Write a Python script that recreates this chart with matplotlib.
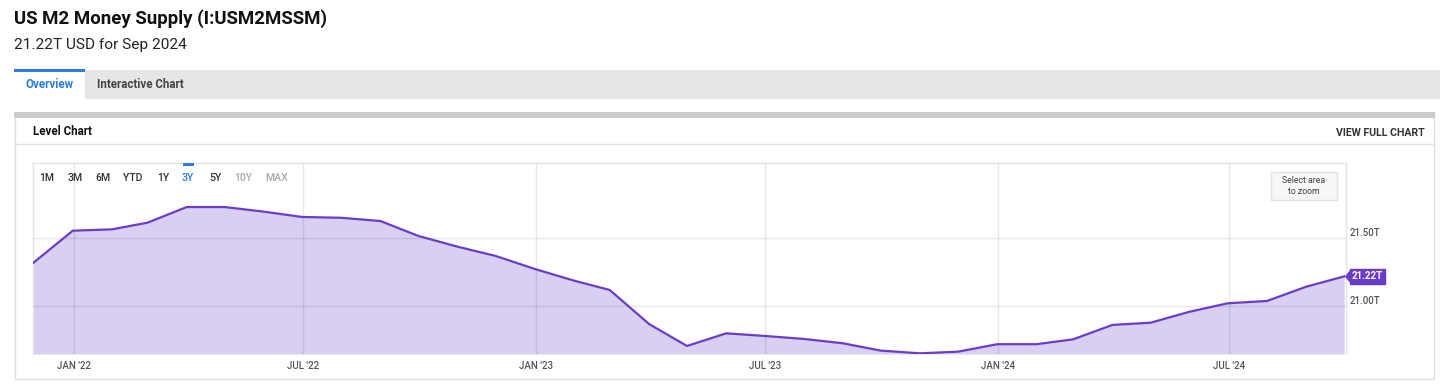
import matplotlib
matplotlib.use("Agg")
import matplotlib.pyplot as plt
import matplotlib.dates as mdates
from matplotlib.patches import Rectangle, FancyBboxPatch
from matplotlib.ticker import FuncFormatter
from matplotlib.transforms import offset_copy
import pandas as pd

plt.rcParams['font.family'] = ['Roboto', 'DejaVu Sans']

# M2 level, month-end, trillions USD (Nov 2021 .. Sep 2024)
dates = pd.date_range("2021-11-30", "2024-09-30", freq="ME")
values = [21.321, 21.556, 21.566, 21.615, 21.730, 21.730, 21.696, 21.657,
          21.651, 21.627, 21.517, 21.438, 21.370, 21.274, 21.188, 21.120,
          20.870, 20.708, 20.801, 20.782, 20.760, 20.728, 20.674, 20.654,
          20.666, 20.721, 20.721, 20.757, 20.863, 20.879, 20.960, 21.022,
          21.039, 21.144, 21.22]
yticks = [21.0, 21.5]
xticks = pd.to_datetime(["2022-01-01", "2022-07-01", "2023-01-01",
                         "2023-07-01", "2024-01-01", "2024-07-01"])
ranges = ["1M", "3M", "6M", "YTD", "1Y", "3Y", "5Y", "10Y", "MAX"]
range_x = [47, 75, 103, 133, 163, 188, 215, 243, 277]
ymin, ymax = 20.649, 22.054

W, H = 1440, 391
fig = plt.figure(figsize=(W / 100, H / 100), dpi=100)


def fx(x):
    return x / W


def fy(y):
    return 1 - y / H


def box(x0, y0, x1, y1, **kw):
    fig.add_artist(Rectangle((fx(x0), fy(y1)), fx(x1) - fx(x0), fy(y0) - fy(y1),
                             transform=fig.transFigure, **kw))


# header
fig.text(fx(14), fy(24), "US M2 Money Supply (I:USM2MSSM)", fontsize=13.4,
         fontweight='bold', color='#111111', va='baseline')
fig.text(fx(14), fy(48.5), "21.22T USD for Sep 2024", fontsize=11.1,
         color='#222222', va='baseline')

# tabs
box(14, 70, 1440, 99, color='#e6e6e6', lw=0)
box(14, 70, 85, 99, color='white', lw=0)
box(14, 69, 85, 72, color='#2a7de1', lw=0)
fig.text(fx(49.5), fy(87.5), "Overview", fontsize=8.3, fontweight='bold',
         color='#2a7de1', ha='center', va='baseline')
fig.text(fx(97), fy(87.5), "Interactive Chart", fontsize=8.3, fontweight='bold',
         color='#444444', va='baseline')

# card
box(14.5, 113, 1434, 379, fill=False, ec='#dddddd', lw=1)
box(14, 112, 1434.5, 117.5, color='#cccccc', lw=0)
fig.add_artist(plt.Line2D([fx(15), fx(1434)], [fy(144), fy(144)],
                          transform=fig.transFigure, color='#e2e2e2', lw=1))
fig.text(fx(33), fy(135), "Level Chart", fontsize=8.3, fontweight='bold',
         color='#111111', va='baseline')
fig.text(fx(1425), fy(136), "VIEW FULL CHART", fontsize=7.6, fontweight='bold',
         color='#333333', ha='right', va='baseline')

# plot
ax = fig.add_axes([fx(33), fy(354), fx(1346) - fx(33), fy(163) - fy(354)])
ax.fill_between(dates, values, ymin, color='#d9cff0', lw=0, zorder=1)
ax.plot(dates, values, color='#6a3cc9', lw=1.6, zorder=3,
        solid_joinstyle='round')
ax.set_xlim(dates[0] - pd.Timedelta(hours=10), dates[-1] + pd.Timedelta(hours=34))
ax.set_ylim(ymin, ymax)

ax.set_xticks(xticks)
ax.xaxis.set_major_formatter(FuncFormatter(
    lambda v, p: mdates.num2date(v).strftime("%b '%y").upper()))
ax.set_yticks(yticks)
ax.yaxis.set_major_formatter(FuncFormatter(lambda v, p: f"{v:.2f}T"))
ax.yaxis.tick_right()
ax.tick_params(axis='x', length=0, pad=5, labelsize=7, labelcolor='#555555')
ax.tick_params(axis='y', length=0, pad=2.5, labelsize=7, labelcolor='#555555')
for lbl in ax.get_xticklabels() + ax.get_yticklabels():
    lbl.set_fontweight(500)
for lbl in ax.get_yticklabels():
    lbl.set_va('bottom')
ax.grid(True, color='black', alpha=0.09, lw=1, zorder=2)
ax.set_axisbelow(False)
for s in ax.spines.values():
    s.set_color('#e4e4e4')
    s.set_linewidth(1)
ax.spines['bottom'].set_visible(False)

# last value badge: box plus a left-pointing tip
ax.annotate(f"{values[-1]:.2f}T", xy=(dates[-1], values[-1]),
            xytext=(5.6, 0), textcoords='offset points', ha='left', va='center',
            fontsize=7, fontweight='bold', color='white', annotation_clip=False,
            zorder=5,
            bbox=dict(boxstyle='square,pad=0.22', fc='#6a3cc9', ec='#6a3cc9'))
tip = [(-4, 0), (0, -5), (0, 5), (-4, 0)]
ax.plot(dates[-1], values[-1], marker=tip, ms=10, color='#6a3cc9', mew=0,
        clip_on=False, zorder=6,
        transform=offset_copy(ax.transData, fig=fig, x=4.3, units='points'))

# range selector
for lbl, x in zip(ranges, range_x):
    c = '#333333'
    if lbl == "3Y":
        c = '#2a7de1'
    elif lbl in ("10Y", "MAX"):
        c = '#aaaaaa'
    fig.text(fx(x), fy(180.7), lbl, fontsize=7.6, color=c, ha='center',
             va='baseline', fontweight=500)
box(183, 163, 194, 165.5, color='#2a7de1', lw=0)

# zoom hint
fig.add_artist(FancyBboxPatch((fx(1271), fy(200)), fx(1337) - fx(1271),
                              fy(172) - fy(200), boxstyle='square,pad=0',
                              transform=fig.transFigure, fc='#f6f7f7',
                              ec='#e2e2e2', lw=1))
fig.text(fx(1304), fy(180.5), "Select area", fontsize=6.3, color='#444444',
         ha='center', va='center')
fig.text(fx(1304), fy(191.5), "to zoom", fontsize=6.3, color='#444444',
         ha='center', va='center')

fig.savefig("out.png", dpi=100)
